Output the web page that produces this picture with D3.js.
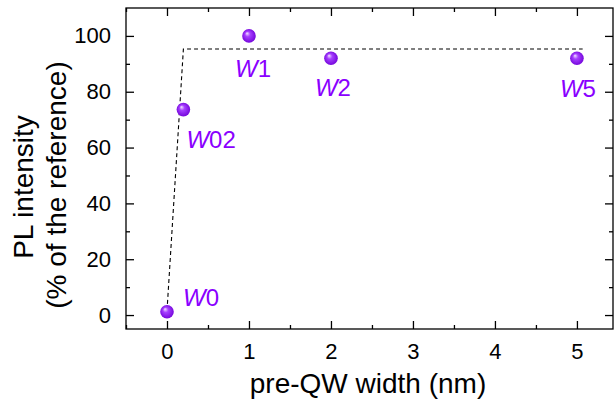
<!DOCTYPE html>
<html><head><meta charset="utf-8">
<script src="https://cdn.jsdelivr.net/npm/d3@7"></script>
<style>body{margin:0;background:#fff;} svg{display:block;font-family:Arial,"Liberation Sans",sans-serif;}</style>
</head><body>
<svg id="c" width="616" height="407"></svg>
<script>
const widths = [0, 0.2, 1, 2, 5];
const intensity = [1.2, 73.6, 100, 92, 92];
const names = ["0", "02", "1", "2", "5"];
const guideX = [0, 0.2, 5.07];
const guideY = [1.5, 95.3, 95.3];
const xTicks = [0, 1, 2, 3, 4, 5];
const yTicks = [0, 20, 40, 60, 80, 100];

const svg = d3.select("#c");
const L = 126, R = 613, T = 8, B = 329;
const x = d3.scaleLinear().domain([-0.5, 5.44]).range([L, R]);
const y = d3.scaleLinear().domain([-5, 110]).range([B, T]);
const purple = "#8a00ff";

const defs = svg.append("defs");
const g = defs.append("radialGradient").attr("id","ball").attr("cx","50%").attr("cy","50%").attr("r","55%").attr("fx","35%").attr("fy","30%");
g.append("stop").attr("offset","0%").attr("stop-color","#f3e6ff");
g.append("stop").attr("offset","35%").attr("stop-color","#a640ff");
g.append("stop").attr("offset","100%").attr("stop-color","#7000d8");

// frame
svg.append("rect").attr("x",L).attr("y",T).attr("width",R-L).attr("height",B-T).attr("fill","none").attr("stroke","#000").attr("stroke-width",1.3);

const minorX = d3.range(-0.5, 5.45, 0.5).filter(v => Math.abs(v - Math.round(v)) > 0.01);
const minorY = d3.range(-0, 110, 10).filter(v => v % 20 !== 0);

function axisStyle(sel){ sel.select(".domain").remove(); sel.selectAll("line").attr("stroke","#000").attr("stroke-width",1.3); }

// bottom
const bx = svg.append("g").attr("transform",`translate(0,${B})`).call(d3.axisBottom(x).tickValues(xTicks).tickSize(-8).tickPadding(14).tickFormat(d3.format("d")));
axisStyle(bx); bx.selectAll("text").attr("font-size",22).attr("fill","#000").attr("font-family","Arial,'Liberation Sans',sans-serif");
svg.append("g").attr("transform",`translate(0,${B})`).call(d3.axisBottom(x).tickValues(minorX).tickSize(-4).tickFormat("")).call(axisStyle);
// top
svg.append("g").attr("transform",`translate(0,${T})`).call(d3.axisTop(x).tickValues(xTicks).tickSize(-8).tickFormat("")).call(axisStyle);
svg.append("g").attr("transform",`translate(0,${T})`).call(d3.axisTop(x).tickValues(minorX).tickSize(-4).tickFormat("")).call(axisStyle);
// left
const ly = svg.append("g").attr("transform",`translate(${L},0)`).call(d3.axisLeft(y).tickValues(yTicks).tickSize(-8).tickPadding(15).tickFormat(d3.format("d")));
axisStyle(ly); ly.selectAll("text").attr("font-size",22).attr("fill","#000").attr("font-family","Arial,'Liberation Sans',sans-serif");
svg.append("g").attr("transform",`translate(${L},0)`).call(d3.axisLeft(y).tickValues(minorY).tickSize(-4).tickFormat("")).call(axisStyle);
// right
svg.append("g").attr("transform",`translate(${R},0)`).call(d3.axisRight(y).tickValues(yTicks).tickSize(-8).tickFormat("")).call(axisStyle);
svg.append("g").attr("transform",`translate(${R},0)`).call(d3.axisRight(y).tickValues(minorY).tickSize(-4).tickFormat("")).call(axisStyle);

// guide line
const line = d3.line().x(d => x(d[0])).y(d => y(d[1]));
svg.append("path").attr("d", line(guideX.map((v,i)=>[v, guideY[i]]))).attr("fill","none").attr("stroke","#000").attr("stroke-width",1.1).attr("stroke-dasharray","4,3");

// points
svg.selectAll("circle.pt").data(widths).join("circle").attr("class","pt")
  .attr("cx", d => x(d)).attr("cy", (d,i) => y(intensity[i])).attr("r", 6.8).attr("fill","url(#ball)");

// labels
const offs = [[16,-6,"start"],[3,38,"start"],[4,41,"middle"],[2,38,"middle"],[1,39,"middle"]];
widths.forEach((w,i) => {
  const t = svg.append("text").attr("x", x(w)+offs[i][0]).attr("y", y(intensity[i])+offs[i][1])
    .attr("text-anchor", offs[i][2]).attr("font-size",24).attr("fill",purple);
  t.append("tspan").attr("font-style","italic").text("W");
  t.append("tspan").text(names[i]);
});

// axis titles
svg.append("text").attr("x",368).attr("y",393).attr("text-anchor","middle").attr("font-size",28).text("pre-QW width (nm)");
svg.append("text").attr("transform",`translate(33,187) rotate(-90)`).attr("text-anchor","middle").attr("font-size",28).text("PL intensity");
svg.append("text").attr("transform",`translate(66,185) rotate(-90)`).attr("text-anchor","middle").attr("font-size",28).text("(% of the reference)");
</script>
</body></html>
